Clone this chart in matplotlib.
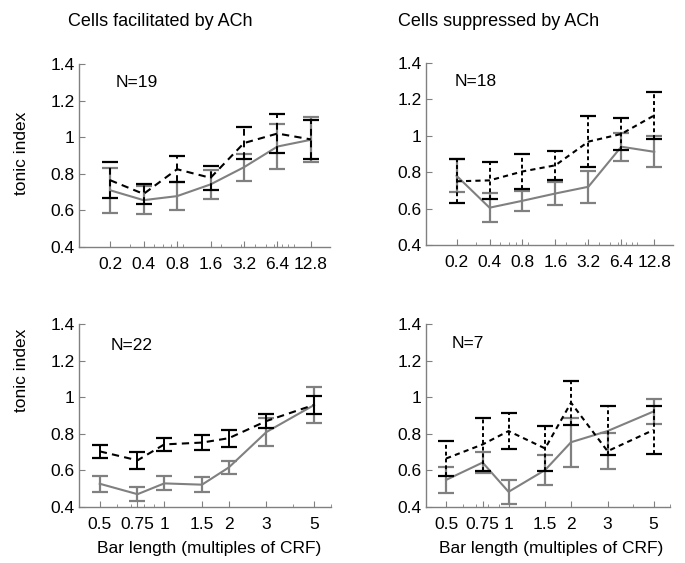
import matplotlib
matplotlib.use("Agg")
import matplotlib.pyplot as plt
from matplotlib.ticker import FixedLocator, FixedFormatter, LogLocator, NullFormatter

plt.rcParams['font.family'] = ['Liberation Sans', 'DejaVu Sans']

# ---- data ----
top_x = [0.2, 0.4, 0.8, 1.6, 3.2, 6.4, 12.8]
top_xlabels = ['0.2', '0.4', '0.8', '1.6', '3.2', '6.4', '12.8']
bot_x = [0.5, 0.75, 1, 1.5, 2, 3, 5]
bot_xlabels = ['0.5', '0.75', '1', '1.5', '2', '3', '5']

# Cells facilitated by ACh, N=19
fac_top_ach = [0.765, 0.69, 0.825, 0.778, 0.968, 1.02, 0.988]
fac_top_ach_err = [0.098, 0.056, 0.07, 0.066, 0.087, 0.106, 0.107]
fac_top_ctl = [0.71, 0.656, 0.678, 0.742, 0.836, 0.949, 0.986]
fac_top_ctl_err = [0.122, 0.075, 0.075, 0.08, 0.073, 0.122, 0.122]

# Cells suppressed by ACh, N=18
sup_top_ach = [0.75, 0.755, 0.804, 0.838, 0.968, 1.01, 1.112]
sup_top_ach_err = [0.12, 0.1, 0.097, 0.08, 0.142, 0.087, 0.13]
sup_top_ctl = [0.78, 0.605, 0.643, 0.683, 0.72, 0.94, 0.912]
sup_top_ctl_err = [0.09, 0.08, 0.056, 0.062, 0.088, 0.078, 0.085]

# Cells facilitated by ACh, N=22
fac_bot_ach = [0.704, 0.655, 0.742, 0.752, 0.776, 0.87, 0.958]
fac_bot_ach_err = [0.037, 0.048, 0.034, 0.043, 0.046, 0.04, 0.048]
fac_bot_ctl = [0.527, 0.47, 0.529, 0.522, 0.616, 0.81, 0.957]
fac_bot_ctl_err = [0.045, 0.039, 0.038, 0.042, 0.036, 0.075, 0.097]

# Cells suppressed by ACh, N=7 (line means; bar centres as drawn in the source)
sup_bot_ach = [0.665, 0.742, 0.815, 0.72, 0.97, 0.705, 0.821]
sup_bot_ach_bar = [0.665, 0.742, 0.815, 0.72, 0.97, 0.817, 0.821]
sup_bot_ach_err = [0.097, 0.143, 0.1, 0.122, 0.12, 0.133, 0.131]
sup_bot_ctl = [0.548, 0.643, 0.483, 0.602, 0.754, 0.815, 0.922]
sup_bot_ctl_bar = [0.548, 0.643, 0.483, 0.602, 0.754, 0.705, 0.922]
sup_bot_ctl_err = [0.073, 0.059, 0.066, 0.082, 0.134, 0.097, 0.066]

y_ticks = [0.4, 0.6, 0.8, 1.0, 1.2, 1.4]
y_ticklabels = ['0.4', '0.6', '0.8', '1', '1.2', '1.4']

GRAY = '#808080'
W, H = 685, 563

fig = plt.figure(figsize=(W / 100, H / 100), dpi=100)

def ax_at(l, t, r, b):
    return fig.add_axes([l / W, 1 - b / H, (r - l) / W, (b - t) / H])

panels = [
    (ax_at(79, 64, 330, 247), top_x, top_xlabels, (0.105, 19),
     fac_top_ach, fac_top_ach, fac_top_ach_err, fac_top_ctl, fac_top_ctl, fac_top_ctl_err,
     'N=19', (0.145, 0.9), (0, (3.5, 2.5)), (0, (3.5, 2.5))),
    (ax_at(426, 63, 673, 245), top_x, top_xlabels, (0.105, 19),
     sup_top_ach, sup_top_ach, sup_top_ach_err, sup_top_ctl, sup_top_ctl, sup_top_ctl_err,
     'N=18', (0.117, 0.9), (0, (2.5, 2)), (0, (2, 1.5))),
    (ax_at(79, 324, 331, 507), bot_x, bot_xlabels, (0.4, 6),
     fac_bot_ach, fac_bot_ach, fac_bot_ach_err, fac_bot_ctl, fac_bot_ctl, fac_bot_ctl_err,
     'N=22', (0.124, 0.885), (0, (3.5, 2.5)), '-'),
    (ax_at(426, 324, 670, 507), bot_x, bot_xlabels, (0.4, 6),
     sup_bot_ach, sup_bot_ach_bar, sup_bot_ach_err, sup_bot_ctl, sup_bot_ctl_bar, sup_bot_ctl_err,
     'N=7', (0.107, 0.896), (0, (2.5, 2)), (0, (2, 1.5))),
]

for (ax, xs, xl, xlim, ach, ach_c, ach_e, ctl, ctl_c, ctl_e, ntext, npos, ls, els) in panels:
    ax.plot(xs, ctl, color=GRAY, lw=1.5, zorder=2)
    ax.errorbar(xs, ctl_c, yerr=ctl_e, fmt='none', ecolor=GRAY, elinewidth=1.6,
                capsize=6, capthick=1.6, zorder=2)
    ax.plot(xs, ach, color='black', lw=1.5, linestyle=ls, zorder=3)
    e2 = ax.errorbar(xs, ach_c, yerr=ach_e, fmt='none', ecolor='black', elinewidth=1.4,
                     capsize=6, capthick=1.6, zorder=3)
    for lc in e2[2]:
        lc.set_linestyle(els)
    ax.set_xscale('log')
    ax.set_xlim(*xlim)
    ax.set_ylim(0.4, 1.4)
    ax.xaxis.set_major_locator(FixedLocator(xs))
    ax.xaxis.set_major_formatter(FixedFormatter(xl))
    ax.xaxis.set_minor_locator(LogLocator(base=10, subs=range(2, 10)))
    ax.xaxis.set_minor_formatter(NullFormatter())
    ax.set_yticks(y_ticks)
    ax.set_yticklabels(y_ticklabels)
    for s in ['top', 'right']:
        ax.spines[s].set_visible(False)
    for s in ['left', 'bottom']:
        ax.spines[s].set_color(GRAY)
        ax.spines[s].set_linewidth(1.0)
    ax.tick_params(axis='both', which='major', direction='in', length=4, color=GRAY,
                   labelsize=12.5, width=0.8)
    ax.tick_params(axis='x', which='major', pad=7)
    ax.tick_params(axis='y', which='major', pad=3)
    ax.tick_params(axis='x', which='minor', direction='in', length=2.5, color=GRAY, width=0.6)
    ax.text(npos[0], npos[1], ntext, transform=ax.transAxes, fontsize=12.5,
            ha='left', va='center')

fig.text(160 / W, 1 - 22 / H, 'Cells facilitated by ACh', ha='center', va='center', fontsize=13)
fig.text(499 / W, 1 - 22 / H, 'Cells suppressed by ACh', ha='center', va='center', fontsize=13)
fig.text(22 / W, 1 - 153 / H, 'tonic index', rotation=90, ha='center', va='center', fontsize=12.5)
fig.text(22 / W, 1 - 370 / H, 'tonic index', rotation=90, ha='center', va='center', fontsize=12.5)
fig.text(209 / W, 1 - 549 / H, 'Bar length (multiples of CRF)', ha='center', va='center', fontsize=12.5)
fig.text(551 / W, 1 - 549 / H, 'Bar length (multiples of CRF)', ha='center', va='center', fontsize=12.5)

fig.savefig('out.png', dpi=100)
